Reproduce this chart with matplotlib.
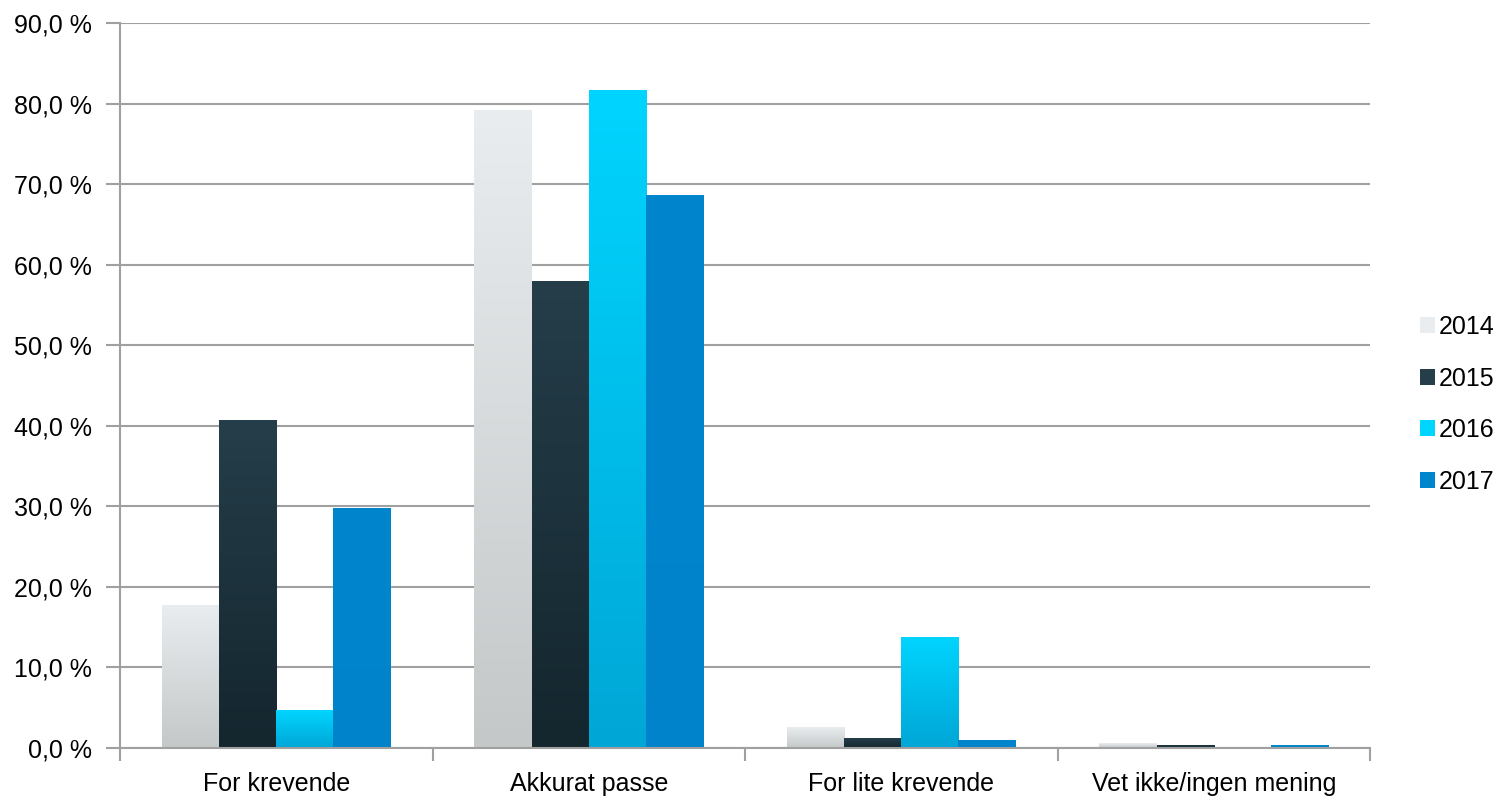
import numpy as np
import matplotlib
matplotlib.use("Agg")
import matplotlib.pyplot as plt
from matplotlib.colors import LinearSegmentedColormap

plt.rcParams['font.family'] = ['Liberation Sans', 'DejaVu Sans']

categories = ['For krevende', 'Akkurat passe', 'For lite krevende', 'Vet ikke/ingen mening']
years = ['2014', '2015', '2016', '2017']
v2014 = [17.8, 79.2, 2.6, 0.6]
v2015 = [40.7, 58.0, 1.2, 0.4]
v2016 = [4.7, 81.7, 13.8, 0.0]
v2017 = [29.8, 68.6, 1.0, 0.4]
series = [v2014, v2015, v2016, v2017]

# top colour, bottom colour for the gradient fills
grads = [('#e9edef', '#c4c8c9'),
         ('#253e4a', '#14262e'),
         ('#00d5ff', '#00a6d6'),
         ('#0086cd', '#0083ca')]

fig = plt.figure(figsize=(15.03, 7.99), dpi=100)
ax = fig.add_axes([120 / 1503, 1 - 748 / 799, 1250 / 1503, 725 / 799])

x = np.arange(len(categories))
w = 0.183
for i, vals in enumerate(series):
    pos = x + (i - 1.5) * w
    bars = ax.bar(pos, vals, w, color=grads[i][0], label=years[i], zorder=3, linewidth=0)
    cmap = LinearSegmentedColormap.from_list('g%d' % i, [grads[i][1], grads[i][0]])
    for b in bars:
        h = b.get_height()
        if h <= 0:
            continue
        bx = b.get_x()
        grad = np.linspace(0, 1, 256).reshape(-1, 1)
        im = ax.imshow(grad, extent=[bx, bx + w, 0, h], origin='lower', aspect='auto',
                       cmap=cmap, zorder=3.5)
        im.set_clip_path(b)

ax.set_xlim(-0.5, 3.5)
ax.set_ylim(0, 90)
ax.set_yticks(np.arange(0, 91, 10))
ax.set_yticklabels([('%.1f %%' % t).replace('.', ',') for t in np.arange(0, 91, 10)], fontsize=18)
ax.set_xticks(x)
ax.set_xticklabels(categories, fontsize=18)
ax.set_xticks(np.arange(-0.5, 4, 1), minor=True)
ax.tick_params(axis='x', which='major', length=0, pad=17)
ax.tick_params(axis='x', which='minor', length=9, direction='out', color='#a0a0a0', width=1.5)
ax.tick_params(axis='y', length=10, color='#a0a0a0', width=1.5, pad=10)
ax.grid(axis='y', color='#a0a0a0', linewidth=1.5, zorder=0)
for s in ['top', 'right']:
    ax.spines[s].set_visible(False)
for s in ['left', 'bottom']:
    ax.spines[s].set_color('#a0a0a0')
    ax.spines[s].set_linewidth(1.5)
ax.spines['bottom'].set_zorder(4)

leg = ax.legend(loc='center left', bbox_to_anchor=(1.032, 0.474), frameon=False, fontsize=18,
                handlelength=0.6, handleheight=0.6, handletextpad=0.15, labelspacing=1.1,
                borderaxespad=0)

fig.savefig('out.png', dpi=100)
